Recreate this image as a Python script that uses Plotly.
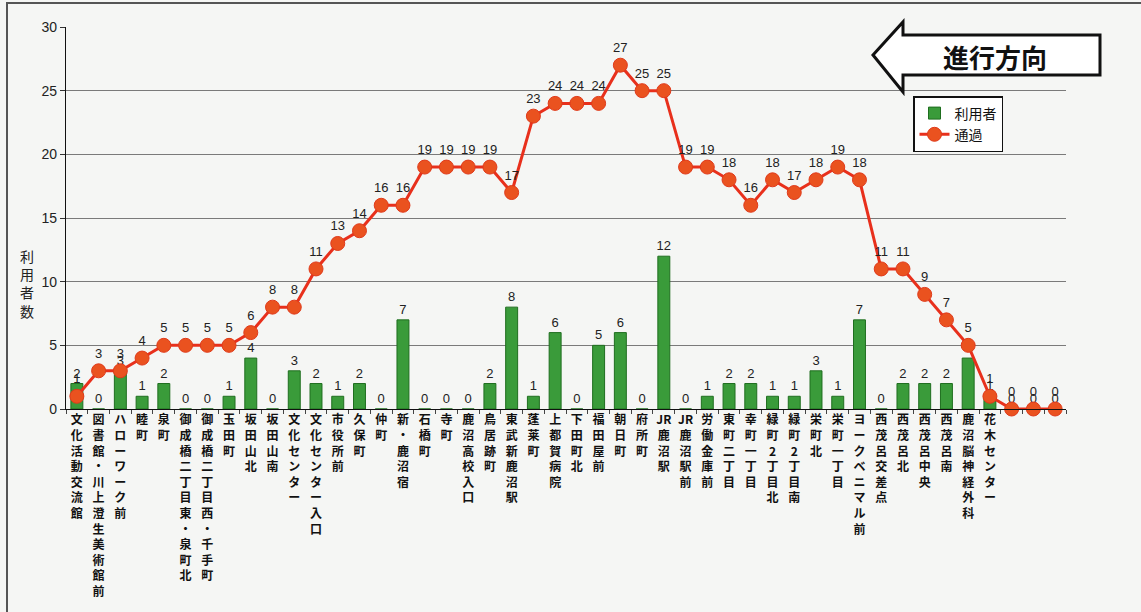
import plotly.graph_objects as go

# ---- data ----
stops = [
    "文化活動交流館", "図書館・川上澄生美術館前", "ハローワーク前", "睦町", "泉町",
    "御成橋二丁目東・泉町北", "御成橋二丁目西・千手町", "玉田町", "坂田山北", "坂田山南",
    "文化センター", "文化センター入口", "市役所前", "久保町", "仲町",
    "新・鹿沼宿", "石橋町", "寺町", "鹿沼高校入口", "鳥居跡町",
    "東武新鹿沼駅", "蓬莱町", "上都賀病院", "下田町北", "福田屋前",
    "朝日町", "府所町", "JR鹿沼駅", "JR鹿沼駅前", "労働金庫前",
    "東町二丁目", "幸町一丁目", "緑町2丁目北", "緑町2丁目南", "栄町北",
    "栄町一丁目", "ヨークベニマル前", "西茂呂交差点", "西茂呂北", "西茂呂中央",
    "西茂呂南", "鹿沼脳神経外科", "花木センター", "", "", "",
]
users = [2, 0, 3, 1, 2, 0, 0, 1, 4, 0,
         3, 2, 1, 2, 0, 7, 0, 0, 0, 2,
         8, 1, 6, 0, 5, 6, 0, 12, 0, 1,
         2, 2, 1, 1, 3, 1, 7, 0, 2, 2,
         2, 4, 1, 0, 0, 0]
passing = [1, 3, 3, 4, 5, 5, 5, 5, 6, 8,
           8, 11, 13, 14, 16, 16, 19, 19, 19, 19,
           17, 23, 24, 24, 24, 27, 25, 25, 19, 19,
           18, 16, 18, 17, 18, 19, 18, 11, 11, 9,
           7, 5, 1, 0, 0, 0]
y_ticks = [0, 5, 10, 15, 20, 25, 30]
series_names = ["利用者", "通過"]
y_title = "利用者数"
direction_label = "進行方向"


def vertical(label):
    """Stack characters vertically (tategaki style); keep Latin runs together."""
    tokens, buf = [], ""
    for ch in label:
        if ch.isascii() and ch.isalpha():
            buf += ch
        else:
            if buf:
                tokens.append(buf)
                buf = ""
            tokens.append(ch)
    if buf:
        tokens.append(buf)
    return "<br>".join(tokens)


x = list(range(len(stops)))

# pixel geometry of plot area
L, R, T, B = 66, 1066, 27, 409
W, H = 1141, 612


def px(xp):
    return (xp - L) / (R - L)


def py(yp):
    return (B - yp) / (B - T)


fig = go.Figure()
fig.add_trace(go.Bar(
    x=x, y=users, name=series_names[0], width=0.55,
    marker=dict(color="#3a9b3a", line=dict(color="#1f6e1f", width=1)),
    text=[str(v) for v in users], textposition="outside", constraintext="none",
    cliponaxis=False,
    textfont=dict(size=13, color="#222", family="Liberation Sans, Arial"),
))
fig.add_trace(go.Scatter(
    x=x, y=passing, name=series_names[1], mode="lines+markers+text",
    line=dict(color="#e8301c", width=3),
    marker=dict(size=14, color="#ea521f", line=dict(color="#e03a1a", width=1)),
    text=[str(v) for v in passing], textposition="top center", cliponaxis=False,
    textfont=dict(size=13, color="#222", family="Liberation Sans, Arial"),
))

fig.update_layout(
    width=W, height=H,
    margin=dict(l=L, r=W - R, t=T, b=H - B, autoexpand=False),
    paper_bgcolor="#f5f6f4", plot_bgcolor="#f5f6f4",
    font=dict(family="Noto Sans CJK JP, Liberation Sans", color="#111"),
    showlegend=True,
    legend=dict(x=px(913), y=py(96), xanchor="left", yanchor="top",
                bgcolor="#ffffff", bordercolor="#111", borderwidth=1.5,
                font=dict(size=14, family="Noto Sans CJK JP"),
                tracegroupgap=0),
    bargap=0.45,
)
fig.update_xaxes(
    range=[-0.5, len(stops) - 0.5], tickmode="array", tickvals=x,
    ticktext=[vertical(s) for s in stops], ticks="",
    tickfont=dict(size=12, family="Noto Sans CJK JP", color="#111", weight="bold"),
    showline=True, linecolor="#111", linewidth=1, showgrid=False, zeroline=False,
    minor=dict(tickvals=[i - 0.5 for i in range(len(stops) + 1)], ticks="outside",
               ticklen=4, tickcolor="#444", showgrid=False),
)
fig.update_yaxes(
    range=[0, 30], tickmode="array", tickvals=y_ticks, ticks="outside", ticklen=5,
    tickcolor="#333", showline=True, linecolor="#111", linewidth=1.2,
    showgrid=True, gridcolor="#7a7a7a", gridwidth=1, zeroline=False,
    tickfont=dict(size=14, family="Liberation Sans, Arial", color="#222"),
)

# y axis title (vertical stacked characters)
fig.add_annotation(xref="paper", yref="paper", x=px(27), y=py(283),
                   xanchor="center", yanchor="middle",
                   text=vertical(y_title), showarrow=False,
                   font=dict(size=14, family="Noto Sans CJK JP", color="#222"))

# direction arrow
pts = [(873, 55), (903, 22), (903, 35), (1100, 35), (1100, 75), (903, 75), (903, 92)]
path = "M " + " L ".join(f"{px(a):.4f},{py(b):.4f}" for a, b in pts) + " Z"
fig.add_shape(type="path", path=path, xref="paper", yref="paper",
              line=dict(color="#111", width=3), fillcolor="#ffffff")
fig.add_annotation(xref="paper", yref="paper", x=px(995), y=py(56),
                   xanchor="center", yanchor="middle",
                   text=direction_label, showarrow=False,
                   font=dict(size=26, family="Noto Sans CJK JP", color="#111", weight="bold"))

# outer frame of the scanned page
fig.add_shape(type="rect", xref="paper", yref="paper",
              x0=px(7), x1=px(1150), y0=py(3), y1=py(620),
              line=dict(color="#555", width=2), fillcolor="rgba(0,0,0,0)", layer="below")

fig.write_html("out.html", config={"displayModeBar": False},
               post_script="document.body.style.margin='0';document.body.style.overflow='hidden';")
